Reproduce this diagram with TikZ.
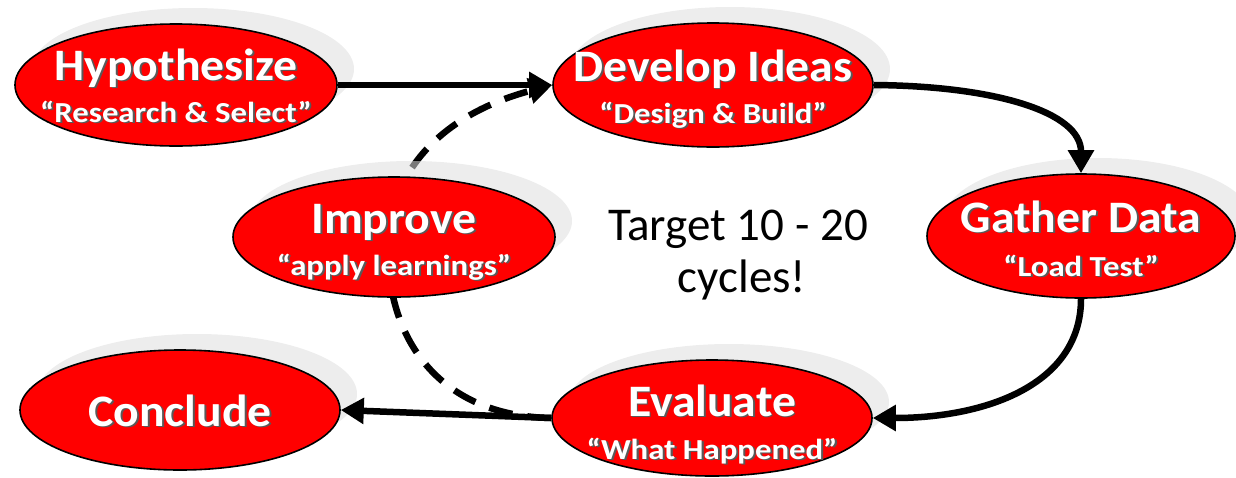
\documentclass[tikz,border=0pt]{standalone}
\usepackage{fontspec}
\setmainfont{Carlito}
\usetikzlibrary{shapes.geometric,shadows,arrows.meta,calc}
\pgfdeclarelayer{background}
\pgfsetlayers{background,main}
\newcommand{\shd}[1]{\leavevmode\rlap{\kern1.8pt\raisebox{-1.8pt}{\textcolor{black!65}{#1}}}#1}
\newcommand{\ttltext}[1]{\scalebox{1.06}[1]{\shd{#1}}}
\newcommand{\subtext}[1]{\scalebox{1.13}[1]{\shd{#1}}}
\tikzset{
  stage/.style={ellipse, draw=black, line width=1.6pt, fill=red, inner sep=0pt,
    drop shadow={shadow xshift=17pt, shadow yshift=16pt, fill=black!13, opacity=0.55}},
  ttl/.style={text=white, font=\fontsize{45}{50}\selectfont\bfseries, anchor=base, inner sep=0pt},
  subttl/.style={text=white, font=\fontsize{29}{32}\selectfont\bfseries, anchor=base, inner sep=0pt},
  plain/.style={text=black, font=\fontsize{47}{52}\selectfont, anchor=base, inner sep=0pt},
  flow/.style={line width=6.5pt, -{Triangle[length=23pt,width=25pt]}},
  loopback/.style={line width=6.5pt, dash pattern=on 24pt off 15pt, -{Triangle[length=23pt,width=25pt]}},
}
\begin{document}
\begin{tikzpicture}[x=1pt,y=-1pt]
\clip (0,0) rectangle (1236,477);
\useasboundingbox (0,0) rectangle (1236,477);
% ellipses
\node[stage, minimum width=322pt, minimum height=122pt] (hyp) at (176,85) {};
\node[stage, minimum width=320pt, minimum height=124pt] (dev) at (713,85) {};
\node[stage, minimum width=308pt, minimum height=124pt] (gat) at (1081,236) {};
\node[stage, minimum width=322pt, minimum height=120pt] (imp) at (394,237) {};
\node[stage, minimum width=320pt, minimum height=120pt] (con) at (180,410) {};
\node[stage, minimum width=320pt, minimum height=116pt] (eva) at (712,418) {};
% texts
\node[ttl] (hypt) at ($(hyp)+(0,-5)$) {\ttltext{Hypothesize}};
\node[subttl] (hyps) at ($(hyp)+(0,37)$) {\subtext{“Research \& Select”}};
\node[ttl] (devt) at ($(dev)+(0,-4)$) {\ttltext{Develop Ideas}};
\node[subttl] (devs) at ($(dev)+(0,38)$) {\subtext{“Design \& Build”}};
\node[ttl] (gatt) at ($(gat)+(0,-4)$) {\ttltext{Gather Data}};
\node[subttl] (gats) at ($(gat)+(0,40)$) {\subtext{“Load Test”}};
\node[ttl] (impt) at ($(imp)+(0,-4)$) {\ttltext{Improve}};
\node[subttl] (imps) at ($(imp)+(0,38)$) {\subtext{“apply learnings”}};
\node[ttl] (cont) at ($(con)+(0,16)$) {\ttltext{Conclude}};
\node[ttl] (evat) at ($(eva)+(0,-2)$) {\ttltext{Evaluate}};
\node[subttl] (evas) at ($(eva)+(0,41)$) {\subtext{“What Happened”}};
\node[plain] (tgt1) at (738,240) {Target 10 - 20};
\node[plain] (tgt2) at (742,292) {cycles!};
% dashed loop behind the ellipses
\begin{pgfonlayer}{background}
\coordinate (lft) at (388,250);
\draw[loopback] (eva.west) .. controls (440,416) and (388,340) .. (lft)
   .. controls (388,165) and (450,112) .. (dev.west);
\end{pgfonlayer}
% solid connectors
\draw[flow] (hyp.east) -- (dev.west);
\draw[flow] (dev.east) .. controls (995,86) and (1081,112) .. (gat.north);
\draw[flow] (gat.south) .. controls (1081,385) and (985,418) .. (eva.east);
\draw[flow] (eva.west) -- (con.east);
\end{tikzpicture}
\end{document}
